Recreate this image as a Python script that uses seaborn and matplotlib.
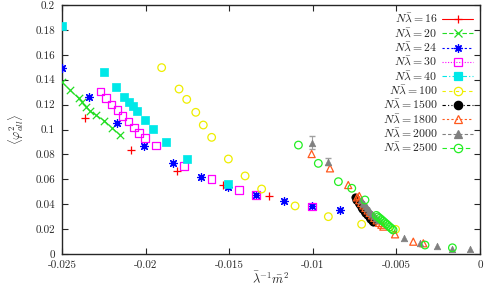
import matplotlib
matplotlib.use("Agg")
import matplotlib.pyplot as plt
from matplotlib.lines import Line2D
from matplotlib.ticker import FuncFormatter, MultipleLocator
import seaborn as sns

sns.set_style("ticks")
plt.rcParams["font.family"] = "cmr10"
plt.rcParams["mathtext.fontset"] = "cm"
plt.rcParams["axes.unicode_minus"] = False
plt.rcParams["axes.formatter.use_mathtext"] = False

# data

x16 = [-0.0236, -0.0209, -0.0181, -0.0154, -0.0126]
y16 = [0.109, 0.0835, 0.0667, 0.0554, 0.0469]

x20 = [-0.0250, -0.02452, -0.0240, -0.02379, -0.02355, -0.02333, -0.02297, -0.02247, -0.02203, -0.02153]
y20 = [0.138, 0.1317, 0.125, 0.1218, 0.1183, 0.1149, 0.1116, 0.1071, 0.1015, 0.0956]

x24 = [-0.0250, -0.02337, -0.02173, -0.02008, -0.01838, -0.01669, -0.01505, -0.0134, -0.01172, -0.01005, -0.00838]
y24 = [0.149, 0.1264, 0.105, 0.0868, 0.0728, 0.0616, 0.0541, 0.0474, 0.0426, 0.0386, 0.0353]

x30 = [-0.02269, -0.02237, -0.02203, -0.02169, -0.02137, -0.02103, -0.02069, -0.02038, -0.02004,
       -0.01938, -0.0177, -0.01605, -0.0144, -0.0134, -0.01005]
y30 = [0.1304, 0.1251, 0.1202, 0.1157, 0.1108, 0.1063, 0.1015, 0.0974, 0.0934,
       0.0870, 0.0709, 0.060, 0.0514, 0.0474, 0.038]

x40 = [-0.0250, -0.02251, -0.02177, -0.02127, -0.02099, -0.02077, -0.02051, -0.02004, -0.01954,
       -0.01878, -0.01754, -0.01505]
y40 = [0.183, 0.146, 0.1344, 0.1264, 0.1223, 0.1189, 0.1151, 0.1076, 0.1001,
       0.0902, 0.076, 0.056]

x100 = [-0.01904, -0.0180, -0.01754, -0.0170, -0.01655, -0.01605, -0.01505, -0.01405, -0.01306,
        -0.01106, -0.00907, -0.00708, -0.00505]
y100 = [0.1497, 0.1325, 0.1242, 0.1138, 0.1036, 0.0937, 0.0763, 0.0627, 0.0522,
        0.0386, 0.030, 0.0239, 0.0198]

x1500 = [-0.00748, -0.00740, -0.00731, -0.00722, -0.00713, -0.00703, -0.00694, -0.00685,
         -0.00676, -0.00666, -0.00657, -0.00648, -0.00641]
y1500 = [0.0455, 0.0435, 0.0415, 0.0398, 0.0380, 0.0362, 0.0345, 0.0330,
         0.0314, 0.0298, 0.0282, 0.0266, 0.0255]

x1800 = [-0.01007, -0.00897, -0.00788, -0.00722, -0.00735, -0.00722, -0.0071, -0.00698, -0.00685,
         -0.00672, -0.0066, -0.00646, -0.00632, -0.00618, -0.00604, -0.0059, -0.00578,
         -0.00508, -0.00399, -0.00339]
y1800 = [0.0803, 0.0688, 0.0554, 0.0466, 0.0455, 0.0432, 0.041, 0.039, 0.037,
         0.035, 0.033, 0.031, 0.029, 0.027, 0.025, 0.0235, 0.022,
         0.0158, 0.0099, 0.0086]

x2000 = [-0.01007, -0.00907, -0.0071, -0.00702, -0.00693, -0.00684, -0.00675, -0.00665,
         -0.00655, -0.00645, -0.00635, -0.00623, -0.0061,
         -0.00455, -0.00359, -0.00259, -0.00169, -0.0006]
y2000 = [0.0894, 0.0741, 0.043, 0.0413, 0.0398, 0.0383, 0.0368, 0.0353,
         0.0338, 0.0323, 0.0308, 0.029, 0.027,
         0.0126, 0.0091, 0.0067, 0.0043, 0.0038]
e2000 = [0.005, 0.003, 0, 0, 0, 0, 0, 0, 0, 0, 0, 0, 0, 0, 0, 0, 0, 0]

x2500 = [-0.01086, -0.00967, -0.00847, -0.00767, -0.00688, -0.0062, -0.0061, -0.0060, -0.0059,
         -0.0058, -0.0057, -0.0056, -0.0055, -0.0054, -0.0053, -0.0052, -0.00329, -0.00165]
y2500 = [0.0875, 0.0728, 0.0581, 0.0528, 0.0434, 0.031, 0.0298, 0.0287, 0.0276,
         0.0264, 0.0252, 0.0241, 0.0229, 0.0217, 0.0205, 0.0193, 0.0072, 0.005]

labels = ["16", "20", "24", "30", "40", "100", "1500", "1800", "2000", "2500"]
series_x = [x16, x20, x24, x30, x40, x100, x1500, x1800, x2000, x2500]
series_y = [y16, y20, y24, y30, y40, y100, y1500, y1800, y2000, y2500]

colors = ["#ff0000", "#22dd22", "#0000ff", "#ff00ff", "#00e8e8", "#eeee00",
          "#000000", "#ff5a1e", "#808080", "#22ee22"]
markers = ["+", "x", (8, 2, 0), "s", "s", "o", "o", "^", "^", "o"]
fills = ["line", "line", "line", "open", "filled", "open", "filled", "open", "filled", "open"]
sizes = [30, 28, 32, 30, 30, 30, 28, 26, 22, 30]
linestyles = ["-", (0, (4, 2)), (0, (2, 2)), (0, (1, 1.5)), (0, (4, 2, 1, 2)),
              (0, (3, 3)), (0, (3, 2, 1, 2, 1, 2)), (0, (2, 2)), (0, (3, 2)), (0, (4, 3))]

fig = plt.figure(figsize=(4.85, 2.89), dpi=100)
ax = fig.add_axes([62 / 485, 35 / 289, 418 / 485, 249 / 289])

# green N=20 points are joined by a line
sns.lineplot(x=x20, y=y20, ax=ax, color=colors[1], linewidth=0.7, sort=False, zorder=2)

handles = []
for i in range(len(labels)):
    kw = dict(marker=markers[i], s=sizes[i], color=colors[i], legend=False, zorder=3 + i)
    if fills[i] == "open":
        kw["facecolor"] = "none"
        kw["edgecolor"] = colors[i]
        kw["linewidth"] = 0.9
    elif fills[i] == "filled":
        kw["edgecolor"] = colors[i]
        kw["linewidth"] = 0.5
    else:
        kw["linewidth"] = 0.9
    sns.scatterplot(x=series_x[i], y=series_y[i], ax=ax, **kw)
    handles.append(Line2D([], [], color=colors[i], linestyle=linestyles[i], linewidth=0.8,
                          marker=markers[i], markersize=6,
                          markerfacecolor="none" if fills[i] == "open" else colors[i],
                          markeredgecolor=colors[i], markeredgewidth=0.9))

# error bars on two grey points
ax.errorbar(x2000[:2], y2000[:2], yerr=e2000[:2], fmt="none", ecolor="#a0a0a0",
            elinewidth=0.8, capsize=2, zorder=2)

ax.set_xlim(-0.025, 0)
ax.set_ylim(0, 0.2)
ax.xaxis.set_major_locator(MultipleLocator(0.005))
ax.yaxis.set_major_locator(MultipleLocator(0.02))
fmt = FuncFormatter(lambda v, p: "0" if abs(v) < 1e-12 else f"{v:g}")
ax.xaxis.set_major_formatter(fmt)
ax.yaxis.set_major_formatter(fmt)
ax.tick_params(direction="in", top=True, right=True, length=4, width=0.8, labelsize=8)
ax.tick_params(axis="x", pad=5)
ax.tick_params(axis="y", pad=5)
for sp in ax.spines.values():
    sp.set_linewidth(1.0)

ax.set_xlabel(r"$\bar{\lambda}^{-1}\bar{m}^2$", fontsize=9, labelpad=0)
ax.set_ylabel(r"$\langle\varphi^2_{all}\rangle$", fontsize=9, labelpad=7)

ax.legend(handles, [r"$N\bar{\lambda} = %s$" % l for l in labels], loc="upper right",
          markerfirst=False, frameon=False, fontsize=8.5, handlelength=2.6,
          labelspacing=0.1, handletextpad=0.4, borderaxespad=0.2)

fig.savefig("out.png", dpi=100)
